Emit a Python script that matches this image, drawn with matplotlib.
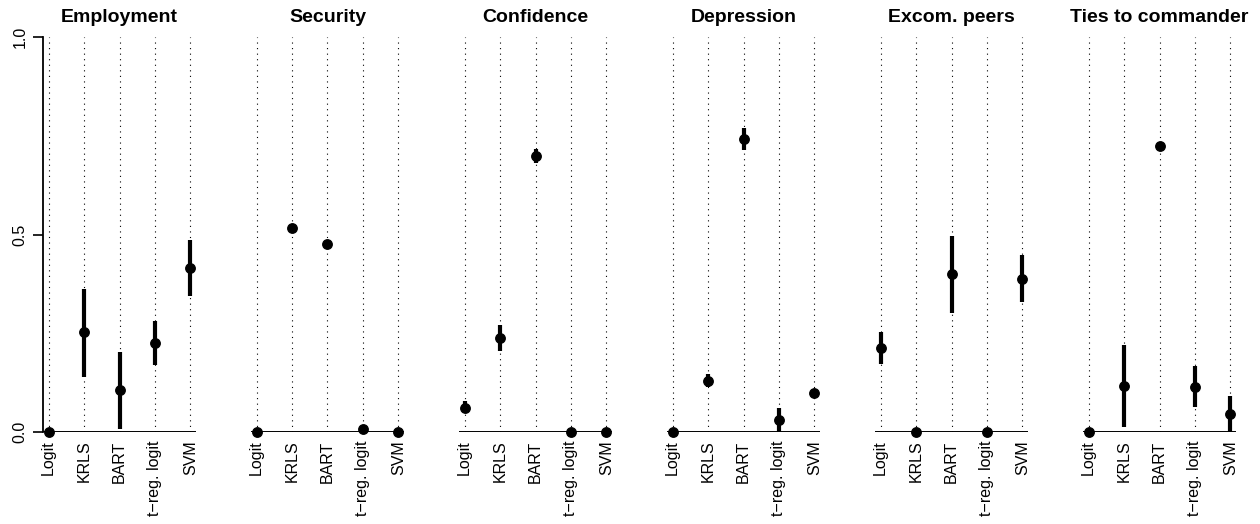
import matplotlib.pyplot as plt

plt.rcParams['font.family'] = ['Liberation Sans', 'DejaVu Sans']

methods = ["Logit", "KRLS", "BART", "t\u2212reg. logit", "SVM"]
outcomes = ["Employment", "Security", "Confidence", "Depression",
            "Excom. peers", "Ties to commander"]

# point estimates, one list per panel (Logit, KRLS, BART, t-reg. logit, SVM)
est = [
    [0.0, 0.252, 0.106, 0.226, 0.416],
    [0.0, 0.516, 0.476, 0.008, 0.0],
    [0.062, 0.239, 0.699, 0.0, 0.0],
    [0.0, 0.130, 0.742, 0.030, 0.098],
    [0.212, 0.0, 0.400, 0.0, 0.388],
    [0.0, 0.117, 0.725, 0.115, 0.045],
]
lower = [
    [0.0, 0.140, 0.008, 0.170, 0.345],
    [0.0, 0.516, 0.476, 0.008, 0.0],
    [0.047, 0.206, 0.681, 0.0, 0.0],
    [0.0, 0.113, 0.715, 0.0, 0.098],
    [0.171, 0.0, 0.302, 0.0, 0.329],
    [0.0, 0.013, 0.716, 0.064, 0.0],
]
upper = [
    [0.0, 0.362, 0.203, 0.282, 0.485],
    [0.0, 0.516, 0.476, 0.008, 0.0],
    [0.079, 0.271, 0.716, 0.0, 0.0],
    [0.0, 0.147, 0.769, 0.062, 0.098],
    [0.252, 0.0, 0.497, 0.0, 0.447],
    [0.0, 0.220, 0.733, 0.166, 0.090],
]

fig = plt.figure(figsize=(12.6, 5.24), dpi=100)
x = list(range(1, len(methods) + 1))

for k in range(len(outcomes)):
    ax = fig.add_axes([(43 + k * 208) / 1260, 92 / 524, 153 / 1260, 395 / 524])
    for xi in x:
        ax.axvline(xi, color='black', ls=(0, (1, 4)), lw=0.8, zorder=1)
    ax.axhline(0, color='black', lw=1.4, zorder=2)
    ax.vlines(x, lower[k], upper[k], color='black', lw=3, clip_on=False, zorder=3)
    ax.plot(x, est[k], 'o', color='black', ms=6.8, clip_on=False, zorder=4)
    ax.set_xlim(0.84, 5.16)
    ax.set_ylim(0, 1)
    for s in ['top', 'right', 'bottom']:
        ax.spines[s].set_visible(False)
    ax.set_xticks(x)
    ax.set_xticklabels(methods, rotation=90, fontsize=11.5)
    ax.tick_params(axis='x', length=0, pad=6)
    if k == 0:
        ax.spines['left'].set_linewidth(1.3)
        ax.set_yticks([0, 0.5, 1])
        ax.set_yticklabels(['0.0', '0.5', '1.0'], rotation=90, va='center', fontsize=11.5)
        ax.tick_params(axis='y', length=7, width=1.2, pad=4)
    else:
        ax.spines['left'].set_visible(False)
        ax.set_yticks([])
    ax.set_title(outcomes[k], fontweight='bold', fontsize=14, pad=11)

fig.savefig('out.png', dpi=100)
